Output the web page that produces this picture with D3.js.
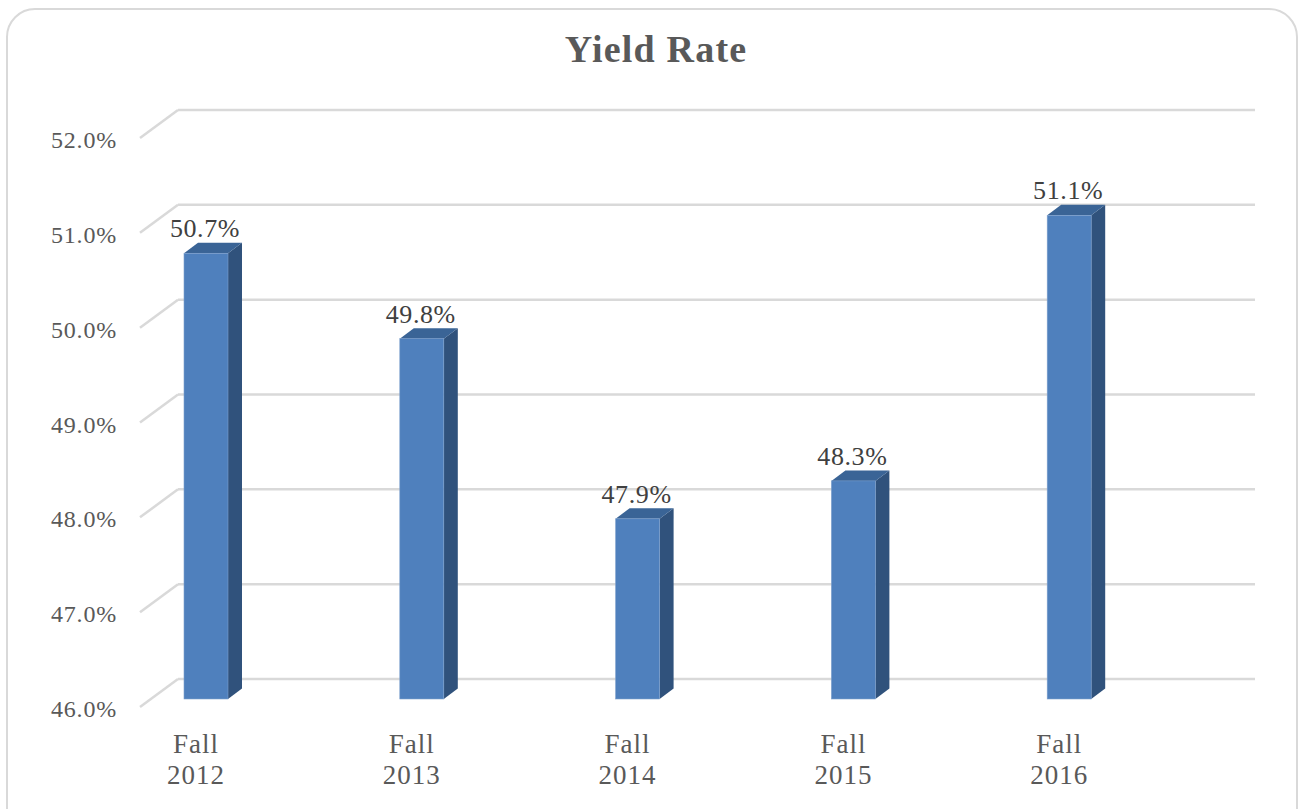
<!DOCTYPE html>
<html>
<head>
<script src="https://cdn.jsdelivr.net/npm/d3@7"></script>
<style>
body { margin: 0; padding: 0; background: #fff; }
text { font-family: Georgia, "Liberation Serif", serif; }
</style>
</head>
<body>
<svg></svg>
<script>
// chart values
var categories = ['Fall 2012', 'Fall 2013', 'Fall 2014', 'Fall 2015', 'Fall 2016'];
var yieldRate = [50.7, 49.8, 47.9, 48.3, 51.1];
var yTicks = [46, 47, 48, 49, 50, 51, 52];

var width = 1304, height = 809;
var svg = d3.select('svg').attr('width', width).attr('height', height);

// outer frame
svg.append('rect')
  .attr('x', 7).attr('y', 9)
  .attr('width', 1290).attr('height', 840)
  .attr('rx', 28)
  .attr('fill', '#fff')
  .attr('stroke', '#d9d9d9')
  .attr('stroke-width', 2);

svg.append('text')
  .attr('x', 656).attr('y', 62)
  .attr('text-anchor', 'middle')
  .attr('font-size', 38)
  .attr('font-weight', 'bold')
  .attr('letter-spacing', 1.2)
  .attr('fill', '#595959')
  .text('Yield Rate');

// back wall scale, depth offset toward the viewer
var depthX = 38, depthY = 28;
var barT = 0.714; // depth where bar front face sits
var barDepthX = 14, barDepthY = 10.5;
var y = d3.scaleLinear().domain([46, 52]).range([679, 110]);
var x = d3.scaleBand().domain(categories).range([162, 1241]);
var barW = 44;

var grid = svg.append('g');
yTicks.forEach(function(t) {
  grid.append('line')
    .attr('x1', 178).attr('x2', 1255)
    .attr('y1', y(t)).attr('y2', y(t))
    .attr('stroke', '#d9d9d9').attr('stroke-width', 2.5);
  grid.append('line')
    .attr('x1', 178 - depthX).attr('y1', y(t) + depthY)
    .attr('x2', 178).attr('y2', y(t))
    .attr('stroke', '#d9d9d9').attr('stroke-width', 2.5);
  svg.append('text')
    .attr('x', 117).attr('y', y(t) + depthY + 2)
    .attr('text-anchor', 'end')
    .attr('dominant-baseline', 'central')
    .attr('font-size', 24)
    .attr('letter-spacing', 0.8)
    .attr('fill', '#595959')
    .text(t.toFixed(1) + '%');
});

function yFront(v) { return y(v) + depthY * barT; }

var bars = svg.append('g').selectAll('g')
  .data(categories.map(function(c, i) { return { cat: c, v: yieldRate[i] }; }))
  .enter().append('g');

bars.each(function(d) {
  var g = d3.select(this);
  var x0 = x(d.cat) + 22, x1 = x0 + barW;
  var yt = yFront(d.v), yb = yFront(46);
  var pts = function(a) { return a.map(function(p) { return p.join(','); }).join(' '); };
  g.append('polygon')
    .attr('points', pts([[x1, yt], [x1 + barDepthX, yt - barDepthY], [x1 + barDepthX, yb - barDepthY], [x1, yb]]))
    .attr('fill', '#30527c');
  g.append('polygon')
    .attr('points', pts([[x0, yt], [x0 + barDepthX, yt - barDepthY], [x1 + barDepthX, yt - barDepthY], [x1, yt]]))
    .attr('fill', '#3a6496');
  g.append('rect')
    .attr('x', x0).attr('y', yt)
    .attr('width', barW).attr('height', yb - yt)
    .attr('fill', '#4f80bd')
    .attr('stroke', '#7c9fcc').attr('stroke-width', 0.6);
  g.append('text')
    .attr('x', x0 + barW / 2 - 1).attr('y', yt - 16)
    .attr('text-anchor', 'middle')
    .attr('font-size', 26)
    .attr('letter-spacing', 0.6)
    .attr('fill', '#404040')
    .text(d.v.toFixed(1) + '%');
});

// category labels
categories.forEach(function(c) {
  var parts = c.split(' ');
  var cx = x(c) + 22 + barW / 2 - 10;
  var t = svg.append('text')
    .attr('text-anchor', 'middle')
    .attr('font-size', 27)
    .attr('letter-spacing', 1)
    .attr('fill', '#595959');
  t.append('tspan').attr('x', cx).attr('y', 753).text(parts[0]);
  t.append('tspan').attr('x', cx).attr('y', 784).text(parts[1]);
});
</script>
</body>
</html>
